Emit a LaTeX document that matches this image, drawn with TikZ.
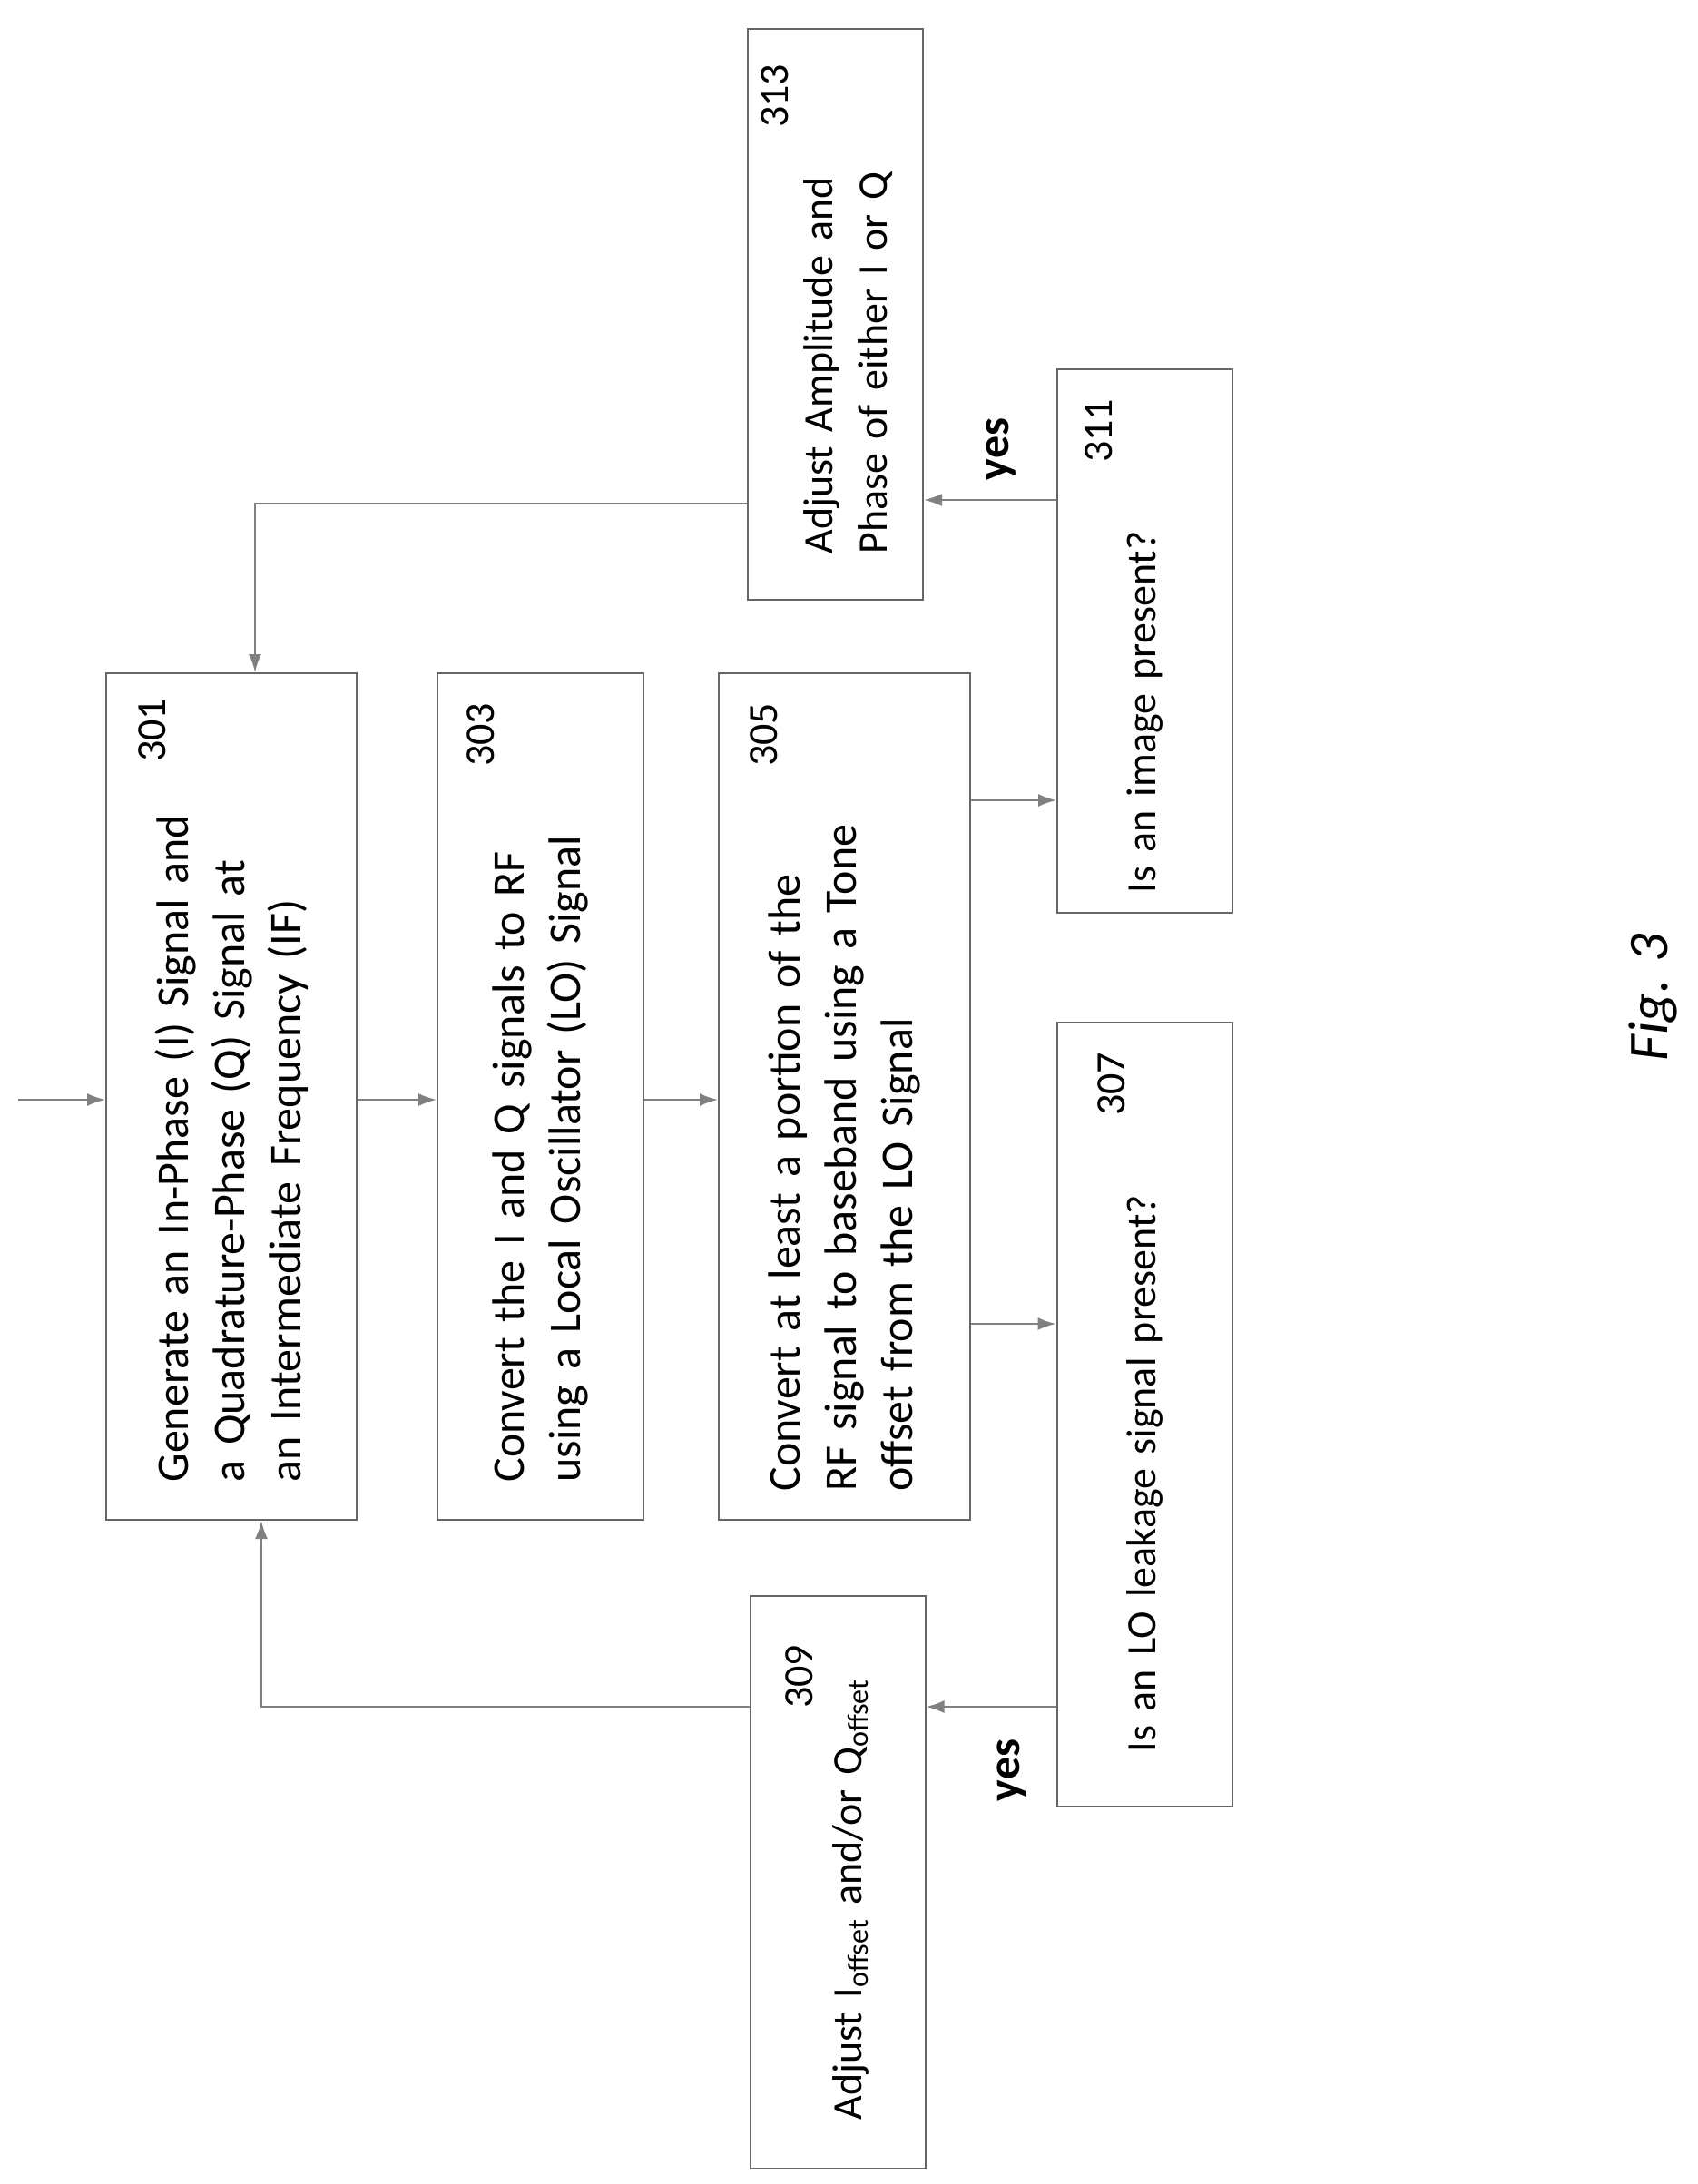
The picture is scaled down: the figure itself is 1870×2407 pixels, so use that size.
\documentclass[tikz,border=0pt]{standalone}
\usepackage{fontspec}
\setmainfont{Carlito}
\usetikzlibrary{arrows.meta}
\tikzset{
	flow/.style={->, draw=gray, line width=1pt}, % connectors
	>={Latex[length=10pt,width=7pt]},
	box/.style={draw=gray!80!black, line width=1pt, rotate=90, inner sep=0pt, align=left,
		font=\fontsize{25}{31}\selectfont},
	small/.style={box, minimum height=96.5pt, font=\fontsize{23}{30}\selectfont},
	num/.style={rotate=90, font=\fontsize{23}{27}\selectfont},
}

\begin{document}
\begin{tikzpicture}[x=0.5pt, y=-0.5pt]
	\useasboundingbox (0,0) rectangle (1870,2407);

	% main column
	\node[box, minimum width=466.5pt, minimum height=138pt, text width=425pt](s301) at (255,1208.5)
		{Generate an In-Phase (I) Signal and\\a Quadrature-Phase (Q) Signal at\\an Intermediate Frequency (IF)};
	\node[box, minimum width=466.5pt, minimum height=113.5pt, text width=425pt](s303) at (595.5,1208.5)
		{Convert the I and Q signals to RF\\using a Local Oscillator (LO) Signal};
	\node[box, minimum width=466.5pt, minimum height=138.5pt, text width=435pt](s305) at (930.5,1208.5)
		{Convert at least a portion of the\\RF signal to baseband using a Tone\\offset from the LO Signal};

	% checks and corrections
	\node[small, minimum width=299.5pt, text width=278pt](s311) at (1261.5,706.5)
		{Is an image present?};
	\node[small, minimum width=432pt, text width=372pt](s307) at (1261,1559)
		{Is an LO leakage signal present?};
	\node[small, minimum width=314.5pt, text width=264pt](s313) at (920.5,346.5)
		{\\Adjust Amplitude and\\Phase of either I or Q};
	\node[small, minimum width=315.5pt, text width=262pt](s309) at (923,2074.5)
		{\\\mbox{Adjust I\textsubscript{offset} and/or Q\textsubscript{offset}}};

	% step numbers
	\node[num](n301) at (168,805){301};
	\node[num](n303) at (530,810){303};
	\node[num](n305) at (842,810){305};
	\node[num](n307) at (1225,1195){307};
	\node[num](n311) at (1211,475){311};
	\node[num](n309) at (881,1848){309};
	\node[num](n313) at (854,106){313};

	\node[num, font=\fontsize{25}{29}\selectfont\bfseries](yes1) at (1103,495){yes};
	\node[num, font=\fontsize{25}{29}\selectfont\bfseries](yes2) at (1115,1951){yes};
	\node[num, font=\fontsize{31}{35}\selectfont\itshape](fig) at (1821,1099){Fig. 3};

	% connectors
	\coordinate (start) at (20,1212);
	\coordinate (up) at (288,0);
	\coordinate (dn) at (281,0);
	\draw[flow] (start) -- (start -| s301.north);
	\draw[flow] (s301.south |- start) -- (s303.north |- start);
	\draw[flow] (s303.south |- start) -- (s305.north |- start);
	\draw[flow] (s305.south |- 0,882) -- (s311.north |- 0,882);
	\draw[flow] (s305.south |- 0,1459) -- (s307.north |- 0,1459);
	\draw[flow] (s311.north |- 0,551) -- (s313.south |- 0,551);
	\draw[flow] (s307.north |- 0,1881) -- (s309.south |- 0,1881);
	\draw[flow] (s309.north |- 0,1881) -| (up |- s301.west);
	\draw[flow] (s313.north |- 0,555) -| (dn |- s301.east);
\end{tikzpicture}
\end{document}
